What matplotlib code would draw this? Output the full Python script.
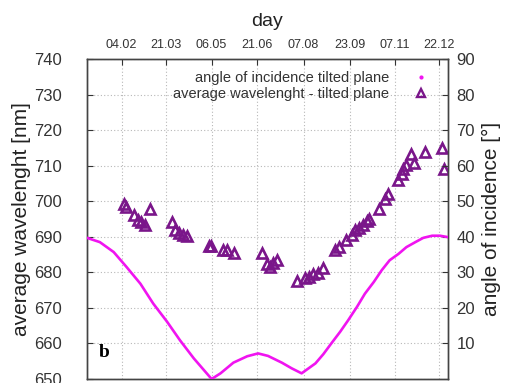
import matplotlib
matplotlib.use('Agg')
import matplotlib.pyplot as plt
from matplotlib.lines import Line2D

plt.rcParams['font.family'] = ['Liberation Sans', 'DejaVu Sans']

# average wavelength on the tilted plane (triangles), day of year / nm
day_tri = [37, 39, 48, 52, 55, 59, 64, 86, 89, 93, 97, 101, 123, 125,
           138, 142, 149, 177, 182, 185, 188, 192, 212, 220, 224, 229,
           234, 239, 251, 255, 262, 268, 271, 275, 279, 283, 285, 295,
           301, 304, 314, 318, 320, 323, 328, 331, 342, 359, 361]
wl_tri = [699.1, 698.5, 696.0, 694.8, 694.1, 693.4, 697.7, 694.1, 692.0,
          691.1, 690.4, 690.1, 687.3, 687.3, 686.4, 686.4, 685.4, 685.5,
          682.4, 681.5, 682.5, 683.4, 677.5, 678.4, 678.8, 679.5, 679.9,
          681.2, 686.3, 687.1, 689.1, 690.5, 691.8, 692.6, 693.3, 694.4,
          695.1, 697.7, 700.7, 702.1, 705.9, 707.8, 709.1, 710.1, 713.2,
          710.8, 713.9, 715.1, 709.1]

# angle of incidence on the tilted plane (curve), day of year / degrees
day_ang = [0, 13, 27, 40, 54, 67, 81, 94, 108, 126, 135, 148, 162, 173,
           183, 197, 207, 217, 224, 231, 239, 247, 256, 264, 273, 281,
           290, 298, 306, 315, 323, 332, 340, 349, 357, 365]
angle = [39.7, 38.5, 35.7, 31.5, 26.8, 21.2, 16.1, 10.9, 5.8, 0.0, 1.6,
         4.6, 6.4, 7.2, 6.5, 4.6, 3.0, 1.6, 3.0, 4.4, 7.0, 10.0, 13.3,
         16.5, 20.3, 24.0, 27.3, 30.6, 33.4, 35.2, 37.1, 38.5, 39.7,
         40.3, 40.3, 39.9]

tick_days = [35, 80, 126, 172, 219, 266, 311, 356]
tick_lbl = ['04.02', '21.03', '06.05', '21.06', '07.08', '23.09', '07.11', '22.12']

fig = plt.figure(figsize=(5.1, 3.83), dpi=100)
ax = fig.add_axes([0.1706, 0.0104, 0.7078, 0.8355])
ax2 = ax.twinx()

tri_col = '#7a168a'
mag = '#f014f0'

ax.plot(day_tri, wl_tri, ls='none', marker='^', ms=6.5, mfc='none',
        mec=tri_col, mew=1.9, zorder=3)
ax2.plot(day_ang, angle, color=mag, lw=1.9, zorder=3)

ax.set_xlim(0, 365)
ax.set_ylim(650, 740)
ax2.set_ylim(0, 90)

ax.set_xticks(tick_days)
ax.set_xticklabels(tick_lbl, fontsize=9)
ax.set_yticks(range(650, 741, 10))
ax2.set_yticks(range(10, 91, 10))

ax.tick_params(axis='x', bottom=False, labelbottom=False, top=True,
               labeltop=True, direction='in', length=4, pad=6, colors='#333333')
ax.tick_params(axis='y', direction='in', length=4, labelsize=12, pad=18,
               colors='#333333')
ax2.tick_params(axis='y', direction='in', length=4, labelsize=12, pad=6,
                colors='#333333')
ax2.tick_params(axis='x', bottom=False, labelbottom=False)

ax.xaxis.set_label_position('top')
ax.set_xlabel('day', fontsize=14, color='#222222', labelpad=9)
ax.set_ylabel('average wavelenght [nm]', fontsize=15, color='#222222', labelpad=2)
ax2.set_ylabel('angle of incidence [°]', fontsize=15, color='#222222', labelpad=5)

ax.grid(True, color='#b8b8b8', lw=0.8, ls=(0, (1, 2)))
for a in (ax, ax2):
    for s in a.spines.values():
        s.set_color('#444444')
        s.set_linewidth(1.0)

ax.text(0.047, 0.084, 'b', transform=ax.transAxes, fontsize=14,
        fontweight='bold', family='Liberation Serif', va='center', ha='center')

handles = [Line2D([], [], ls='none', marker='o', ms=2, color=mag),
           Line2D([], [], ls='none', marker='^', ms=6, mfc='none',
                  mec=tri_col, mew=1.7)]
labels = ['angle of incidence tilted plane', 'average wavelenght - tilted plane']
leg = ax2.legend(handles, labels, loc='upper right', bbox_to_anchor=(0.966, 0.962),
                 frameon=False, markerfirst=False, fontsize=10.5,
                 handlelength=2, handletextpad=1.2, labelspacing=0.12,
                 borderaxespad=0, borderpad=0)
for t in leg.get_texts():
    t.set_color('#333333')

fig.savefig('out.png', dpi=100)
